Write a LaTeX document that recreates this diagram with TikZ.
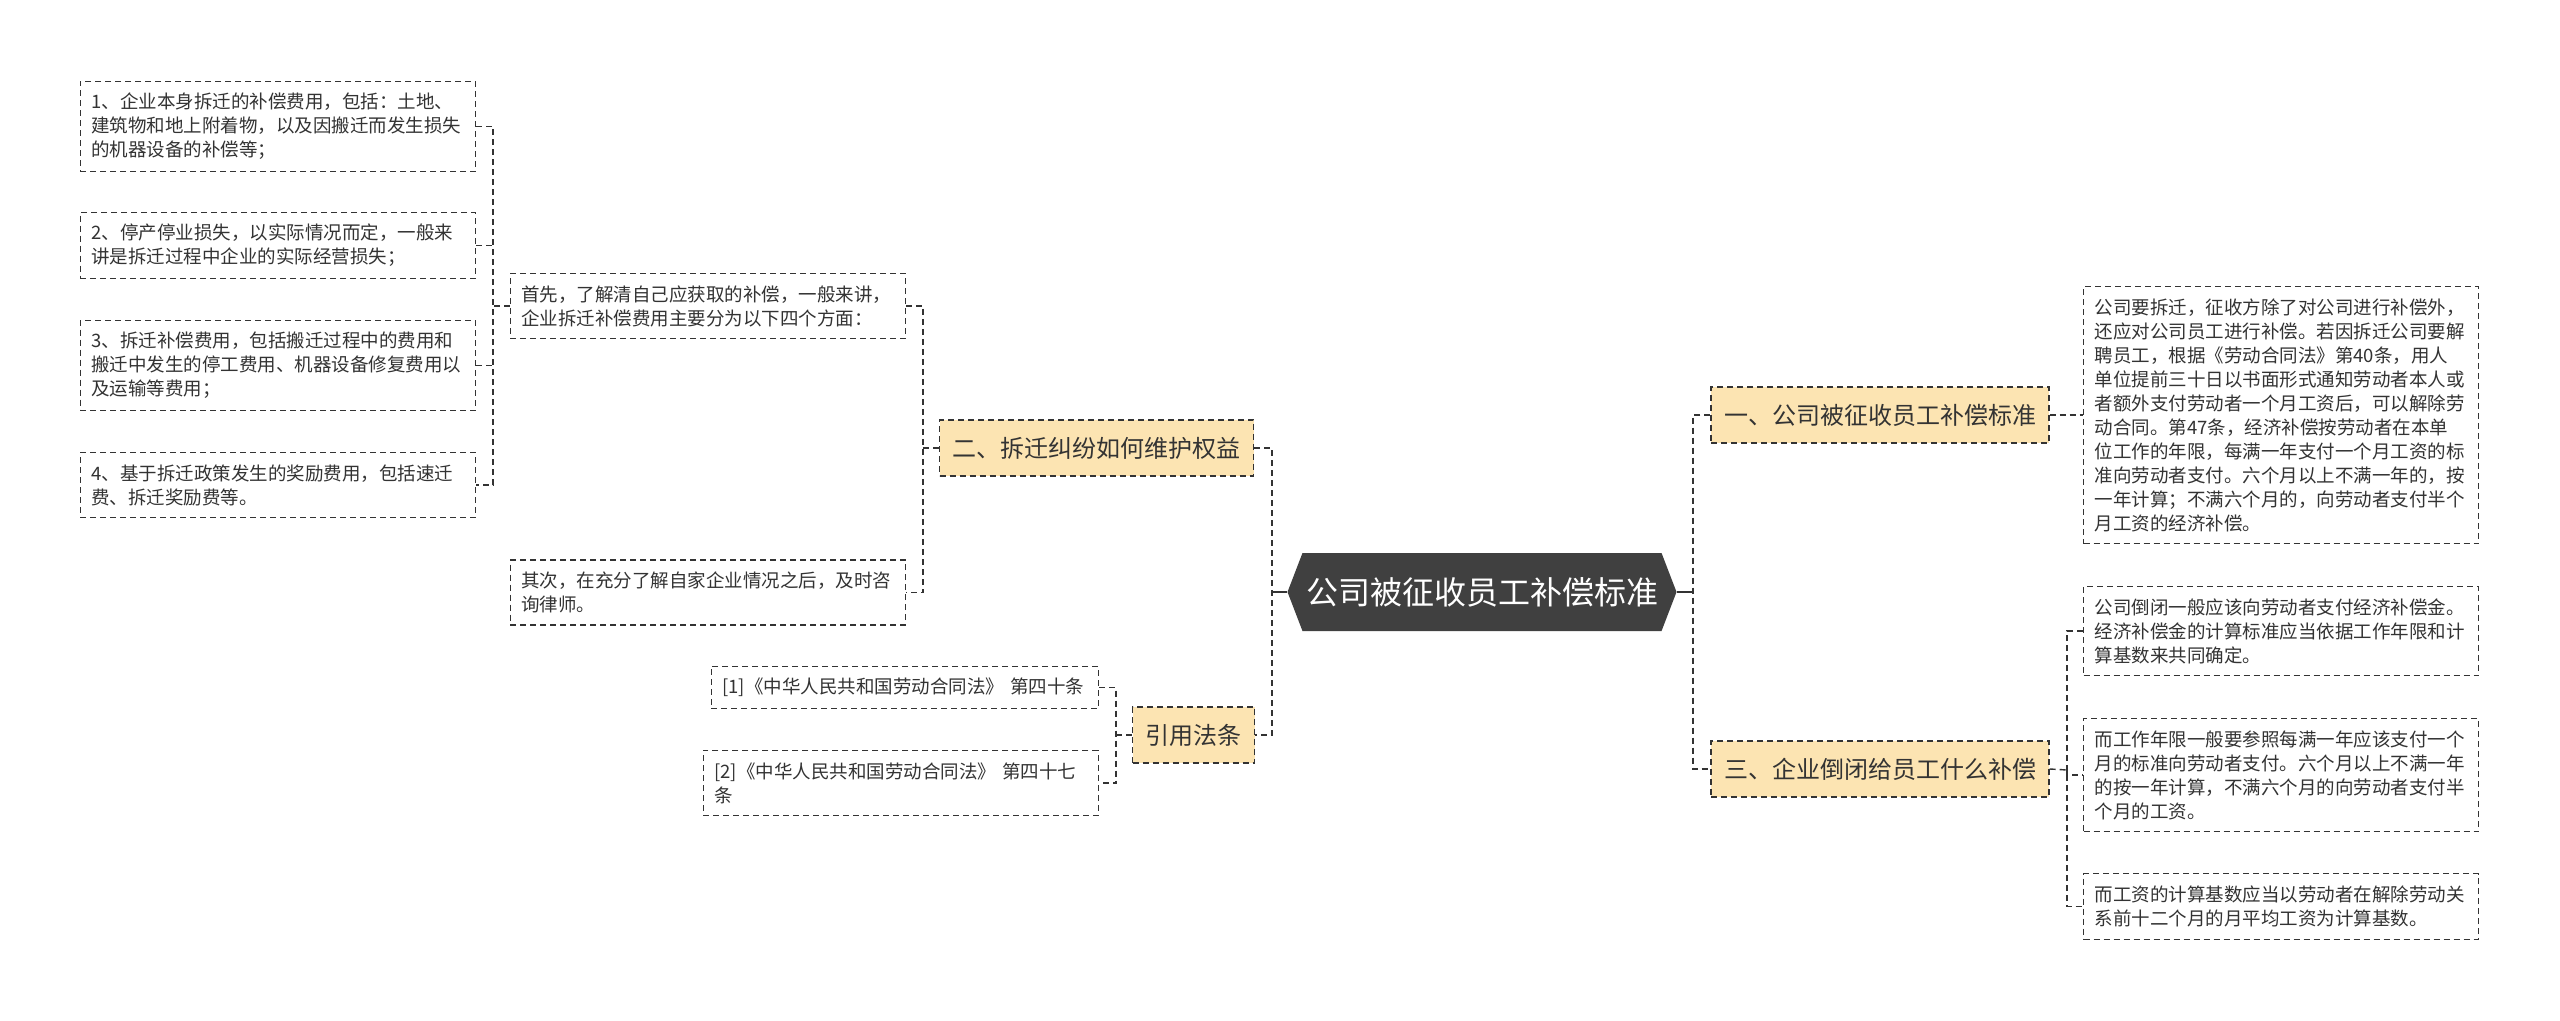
\documentclass[tikz,border=0pt]{standalone}
\usepackage{fontspec}
\setmainfont{Noto Sans CJK SC}
\usetikzlibrary{shapes.symbols}
\definecolor{ink}{RGB}{51,51,51}
\definecolor{hub}{RGB}{64,64,64}
\definecolor{sand}{RGB}{252,228,178}

\begin{document}
\begin{tikzpicture}[x=0.5pt,y=-0.5pt,
  R/.style={signal,signal to=west and east,signal pointer angle=138,
            fill=hub,text=white,font=\fontsize{16}{19}\selectfont,
            minimum width=194.5pt,minimum height=39pt,inner sep=0pt},
  B/.style={draw=ink,fill=sand,dash pattern=on 3pt off 2pt,line width=0.6pt,
            font=\fontsize{12}{14}\selectfont,text=ink,
            minimum height=28pt,inner xsep=6.5pt},
  L/.style={draw=ink,dash pattern=on 3pt off 2pt,line width=0.6pt,
            align=left,text width=186.5pt,
            font=\fontsize{9.25}{12}\selectfont,text=ink,
            inner xsep=5.5pt,inner ysep=6pt},
  ln/.style={ink,dash pattern=on 3pt off 2pt,line width=0.7pt},
  st/.style={ink,line width=1pt}
]
\useasboundingbox[fill=white] (0,0) rectangle (2560,1021);

%% px grid: x 0..2560, y 0..1021 (downwards)

% root
\node[R] (root) at (1482,592) {公司被征收员工补偿标准};

% branches
\node[B] (yi)   at (1880,415)   {一、公司被征收员工补偿标准};
\node[B] (san)  at (1880,769)   {三、企业倒闭给员工什么补偿};
\node[B] (er)   at (1096.5,448) {二、拆迁纠纷如何维护权益};
\node[B] (yin)  at (1193.5,735) {引用法条};

% right leaves
\node[L,anchor=west] (ya) at (2083,415) {公司要拆迁，征收方除了对公司进行补偿外，\\还应对公司员工进行补偿。若因拆迁公司要解\\聘员工，根据《劳动合同法》第40条，用人\\单位提前三十日以书面形式通知劳动者本人或\\者额外支付劳动者一个月工资后，可以解除劳\\动合同。第47条，经济补偿按劳动者在本单\\位工作的年限，每满一年支付一个月工资的标\\准向劳动者支付。六个月以上不满一年的，按\\一年计算；不满六个月的，向劳动者支付半个\\月工资的经济补偿。};
\node[L,anchor=west] (sa) at (2083,631) {公司倒闭一般应该向劳动者支付经济补偿金。\\经济补偿金的计算标准应当依据工作年限和计\\算基数来共同确定。};
\node[L,anchor=west] (sb) at (2083,775) {而工作年限一般要参照每满一年应该支付一个\\月的标准向劳动者支付。六个月以上不满一年\\的按一年计算，不满六个月的向劳动者支付半\\个月的工资。};
\node[L,anchor=west] (sc) at (2083,906.5) {而工资的计算基数应当以劳动者在解除劳动关\\系前十二个月的月平均工资为计算基数。};

% left leaves
\node[L,anchor=east] (ea) at (906,306)   {首先，了解清自己应获取的补偿，一般来讲，\\企业拆迁补偿费用主要分为以下四个方面：};
\node[L,anchor=east] (eb) at (906,592.5) {其次，在充分了解自家企业情况之后，及时咨\\询律师。};
\node[L,anchor=east] (f1) at (476,126.5) {1、企业本身拆迁的补偿费用，包括：土地、\\建筑物和地上附着物，以及因搬迁而发生损失\\的机器设备的补偿等；};
\node[L,anchor=east] (f2) at (476,245.5) {2、停产停业损失，以实际情况而定，一般来\\讲是拆迁过程中企业的实际经营损失；};
\node[L,anchor=east] (f3) at (476,365.5) {3、拆迁补偿费用，包括搬迁过程中的费用和\\搬迁中发生的停工费用、机器设备修复费用以\\及运输等费用；};
\node[L,anchor=east] (f4) at (476,485)   {4、基于拆迁政策发生的奖励费用，包括速迁\\费、拆迁奖励费等。};
\node[L,anchor=east,text width=182.5pt] (ya1) at (1099,687.5) {[1]《中华人民共和国劳动合同法》 第四十条};
\node[L,anchor=east] (ya2) at (1099,783)   {[2]《中华人民共和国劳动合同法》 第四十七\\条};

% joints
\coordinate (jl) at (1272,592);
\coordinate (jr) at (1693,592);
\coordinate (js) at (2067,770);
\coordinate (je) at (923,448);
\coordinate (jf) at (493,306);
\coordinate (jy) at (1116,735);

% root -> branches
\draw[st] (root.west) -- (jl);
\draw[st] (root.east) -- (jr);
\draw[ln,line width=1pt] (er.east) -| (jl) |- (yin.east);
\draw[ln,line width=1pt] (yi.west) -| (jr) |- (san.west);

% branches -> leaves
\draw[ln] (yi.east) -- (ya.west);
\draw[ln] (san.east) -- (js);
\draw[ln] (sa.west) -| (js) |- (sc.west);
\draw[ln] (js) |- (sb.west);
\draw[ln] (er.west) -- (je);
\draw[ln] (ea.east) -| (je) |- (eb.east);
\draw[ln] (ea.west) -- (jf);
\draw[ln] (f1.east) -| (jf) |- (f4.east);
\draw[ln] (f2.east) -- (f2.east -| jf);
\draw[ln] (f3.east) -- (f3.east -| jf);
\draw[ln] (yin.west) -- (jy);
\draw[ln] (ya1.east) -| (jy) |- (ya2.east);

\end{tikzpicture}
\end{document}
